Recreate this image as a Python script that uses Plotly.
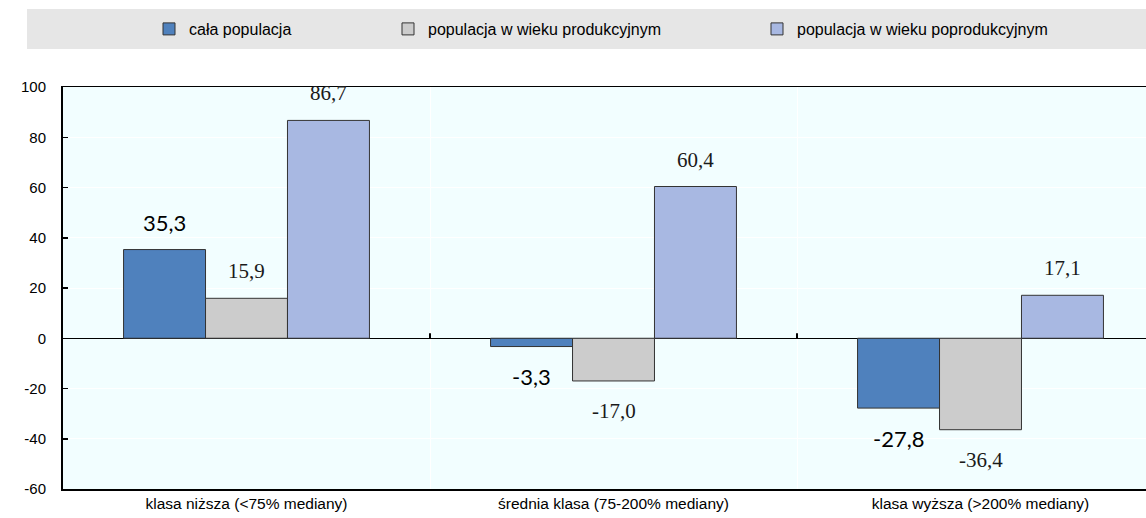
import plotly.graph_objects as go

categories = ["klasa niższa (<75% mediany)", "średnia klasa (75-200% mediany)", "klasa wyższa (>200% mediany)"]
series_names = ["cała populacja", "populacja w wieku produkcyjnym", "populacja w wieku poprodukcyjnym"]
cala = [35.3, -3.3, -27.8]
produkcyjny = [15.9, -17.0, -36.4]
poprodukcyjny = [86.7, 60.4, 17.1]
y_ticks = [-60, -40, -20, 0, 20, 40, 60, 80, 100]

colors = ["#4F81BD", "#CCCCCC", "#A8B8E2"]
label_fonts = [
    dict(family="Lato, Carlito, Open Sans, sans-serif", size=22, color="#000000"),
    dict(family="Liberation Serif, Times New Roman, serif", size=21, color="#1a1a1a"),
    dict(family="Liberation Serif, Times New Roman, serif", size=21, color="#1a1a1a"),
]
all_series = [cala, produkcyjny, poprodukcyjny]

W, H = 1146, 518
ML, MR, MT, MB = 63, 0, 87, 29
plot_w = W - ML - MR
cat_px = 367.0
x_range = [-0.5, -0.5 + plot_w / cat_px]
bargap = 0.33
bar_w = (1 - bargap) / 3


def fmt(v):
    s = f"{abs(v):.1f}".replace(".", ",")
    return s if v >= 0 else "-" + s


fig = go.Figure()
legend_ids = ["legend", "legend2", "legend3"]
for i, (name, vals) in enumerate(zip(series_names, all_series)):
    fig.add_trace(go.Bar(
        x=categories, y=vals, name=name,
        marker=dict(color=colors[i], line=dict(color="#333333", width=1)),
        legend=legend_ids[i],
        hoverinfo="skip",
    ))
    for j, v in enumerate(vals):
        xpos = j + (i - 1) * bar_w
        fig.add_annotation(
            x=xpos, y=v, xref="x", yref="y",
            text=fmt(v),
            showarrow=False, yanchor="middle", xanchor="center",
            yshift=27 if v >= 0 else -30,
            font=label_fonts[i],
        )


def px_to_paper_x(px):
    return (px - ML) / plot_w


def py_to_paper_y(py):
    return 1 + (MT - py) / (H - MT - MB)


# legend background band
fig.add_shape(type="rect", xref="paper", yref="paper",
              x0=px_to_paper_x(27), x1=px_to_paper_x(1146),
              y0=py_to_paper_y(49), y1=py_to_paper_y(9),
              fillcolor="#E6E6E6", line=dict(width=0), layer="below")

# small ticks on zero line at category boundaries
for b in [0.5, 1.5]:
    fig.add_shape(type="line", xref="x", yref="y", ysizemode="pixel", yanchor=0,
                  x0=b, x1=b, y0=0, y1=5, line=dict(color="#000000", width=2))

legend_font = dict(family="Liberation Sans, Arial, sans-serif", size=16, color="#000000")
legend_px = [149, 388, 757]
layout_legends = {}
for lid, lx in zip(legend_ids, legend_px):
    layout_legends[lid] = dict(
        x=px_to_paper_x(lx), y=py_to_paper_y(29), xanchor="left", yanchor="middle",
        orientation="h", bgcolor="rgba(0,0,0,0)", font=legend_font,
        itemwidth=30, borderwidth=0,
    )

fig.update_layout(
    width=W, height=H,
    margin=dict(l=ML, r=MR, t=MT, b=MB, pad=0),
    paper_bgcolor="#FFFFFF",
    plot_bgcolor="#F2FEFF",
    barmode="group", bargap=bargap, bargroupgap=0,
    showlegend=True,
    **layout_legends,
    font=dict(family="Liberation Sans, Arial, sans-serif", size=15, color="#000000"),
)

fig.update_xaxes(
    range=x_range, tickson="boundaries", showgrid=True, gridcolor="#FFFFFF", gridwidth=1,
    ticks="", showline=True, linecolor="#000000", linewidth=1.5, mirror=True,
    tickfont=dict(family="Liberation Sans, Arial, sans-serif", size=15.5, color="#000000"),
    zeroline=False, ticklabelstandoff=0,
)
fig.update_yaxes(
    range=[-60, 100], tickvals=y_ticks, ticktext=[str(t) for t in y_ticks],
    showgrid=True, gridcolor="#FFFFFF", gridwidth=1,
    ticks="inside", ticklen=5, tickcolor="#000000", tickwidth=1.5,
    showline=True, linecolor="#000000", linewidth=2, mirror=False,
    zeroline=True, zerolinecolor="#000000", zerolinewidth=1.5,
    ticklabelstandoff=12,
    tickfont=dict(family="Liberation Sans, Arial, sans-serif", size=15, color="#000000"),
)

fig.write_html(
    "out.html",
    config={"displayModeBar": False, "staticPlot": True},
    post_script="document.body.style.margin='0';document.body.style.overflow='hidden';",
)
